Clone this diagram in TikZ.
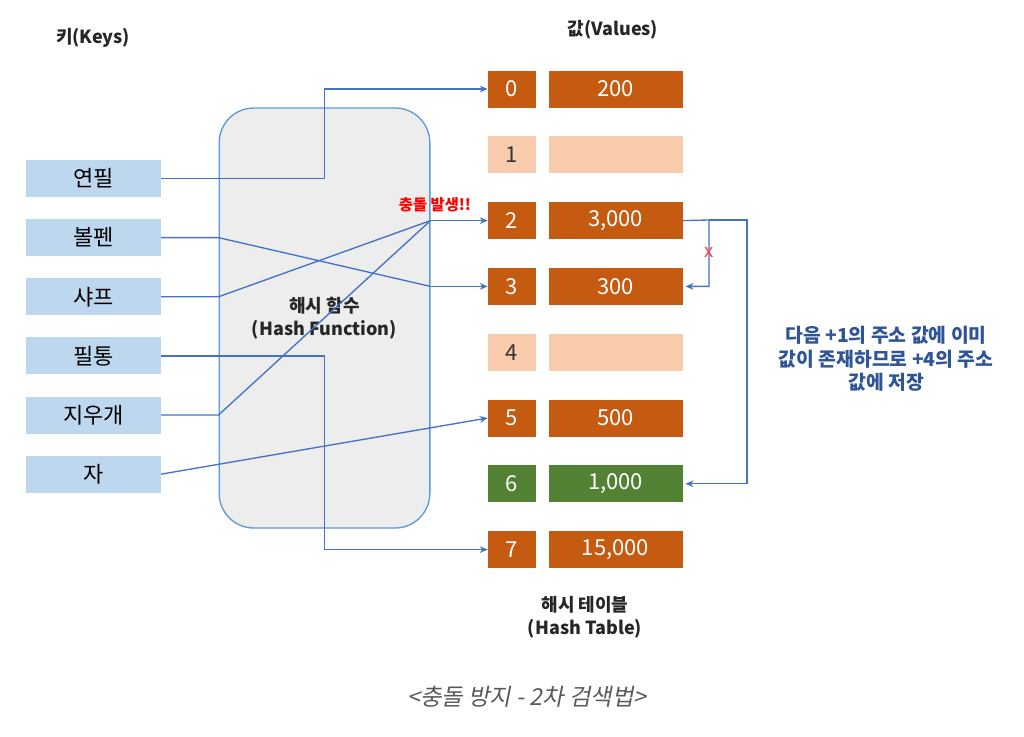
\documentclass[tikz,border=0pt]{standalone}
\usepackage{fontspec}
\setmainfont{Noto Sans CJK KR}
\newfontfamily\capfont[FakeSlant=0.2]{Noto Sans CJK KR}
\usepackage{xcolor}
\usetikzlibrary{arrows.meta,positioning,calc}

\definecolor{keyblue}{HTML}{BDD7EE}
\definecolor{hashgray}{HTML}{EDEDED}
\definecolor{hashline}{HTML}{5B9BD5}
\definecolor{linkblue}{HTML}{4472C4}
\definecolor{slotorange}{HTML}{C55A11}
\definecolor{slotpeach}{HTML}{F8CBAD}
\definecolor{slotgreen}{HTML}{548235}
\definecolor{notecol}{HTML}{2F5597}
\definecolor{capgray}{HTML}{595959}

\begin{document}
\begin{tikzpicture}[
  x=0.75pt, y=-0.75pt,
  font=\fontsize{16.5}{19}\selectfont,
  key/.style={fill=keyblue, minimum width=101pt, minimum height=27.75pt, inner sep=0pt},
  hashbox/.style={rounded corners=26pt, draw=hashline, fill=hashgray, line width=1pt,
                  minimum width=158pt, minimum height=315pt},
  idx/.style={minimum width=36pt, minimum height=27.75pt, inner sep=0pt},
  val/.style={minimum width=100.5pt, minimum height=27.75pt, inner sep=0pt},
  full/.style={fill=slotorange, text=white},
  empty/.style={fill=slotpeach, text=black!80},
  moved/.style={fill=slotgreen, text=white},
  head/.style={font=\fontsize{13.5}{17}\selectfont\bfseries, text=black!85, align=center},
  link/.style={draw=linkblue, line width=1pt},
  arr/.style={link, -{Stealth[length=6pt,width=5pt]}},
  node distance=16.2pt and 9pt
]
  \useasboundingbox (0,0) rectangle (1024,736);

  % keys
  \node[head] (keys) at (93,38) {키(Keys)};
  \node[key] (k1) at (93.5,178.5) {연필};
  \node[key, below=of k1] (k2) {볼펜};
  \node[key, below=of k2] (k3) {샤프};
  \node[key, below=of k3] (k4) {필통};
  \node[key, below=of k4] (k5) {지우개};
  \node[key, below=of k5] (k6) {자};

  % hash function
  \node[hashbox] (hf) at (324.5,318) {};
  \node[head] (hftext) at (324.5,318) {해시 함수\\(Hash Function)};

  % hash table
  \node[head] (vals) at (613,30) {값(Values)};
  \begin{scope}[node distance=21.2pt and 9pt]
    \node[idx, full] (i0) at (512,89) {0};
    \node[idx, empty, below=of i0] (i1) {1};
    \node[idx, full, below=of i1] (i2) {2};
    \node[idx, full, below=of i2] (i3) {3};
    \node[idx, empty, below=of i3] (i4) {4};
    \node[idx, full, below=of i4] (i5) {5};
    \node[idx, moved, below=of i5] (i6) {6};
    \node[idx, full, below=of i6] (i7) {7};
  \end{scope}
  \node[val, full, right=of i0] (v0) {200};
  \node[val, empty, right=of i1] (v1) {};
  \node[val, full, right=of i2] (v2) {3,000};
  \node[val, full, right=of i3] (v3) {300};
  \node[val, empty, right=of i4] (v4) {};
  \node[val, full, right=of i5] (v5) {500};
  \node[val, moved, right=of i6] (v6) {1,000};
  \node[val, full, right=of i7] (v7) {15,000};
  \node[head] (table) at (585,617) {해시 테이블\\(Hash Table)};

  % hashing links
  \coordinate (hit2) at (i2.west -| hf.east);
  \coordinate (hit3) at (i3.west -| hf.east);
  \draw[arr] (k1.east) -- (k1.east -| hf.center) |- (i0.west);
  \draw[link] (k2.east) -- (k2.east -| hf.west) -- (hit3);
  \draw[arr] (hit3) -- (i3.west);
  \draw[link] (k3.east) -- (k3.east -| hf.west) -- (hit2);
  \draw[link] (k5.east) -- (k5.east -| hf.west) -- (hit2);
  \draw[arr] (hit2) -- (i2.west);
  \draw[arr] (k4.east) -- (k4.east -| hf.center) |- (i7.west);
  \draw[arr] (k6.east) -- (i5.west);
  \node[font=\fontsize{11.5}{13}\selectfont\bfseries, text=red] (clash) at (435,205) {충돌 발생!!};

  % probing
  \coordinate (probe1) at (709,220);
  \coordinate (probe4) at (747,220);
  \draw[arr, shorten >=2pt] (v2.east) -- (probe1) |- (v3.east);
  \draw[arr, shorten >=2pt] (probe1) -- (probe4) |- (v6.east);
  \node[font=\fontsize{14}{16}\selectfont, text=red!75] (nope) at (709,252) {x};
  \node[font=\fontsize{14.5}{17.5}\selectfont\bfseries, text=notecol, align=center] (note) at (886,359)
    {다음 +1의 주소 값에 이미\\값이 존재하므로 +4의 주소\\값에 저장};

  \node[font=\fontsize{17.5}{20}\selectfont\capfont, text=capgray] (caption) at (527,697)
    {<충돌 방지 - 2차 검색법>};
\end{tikzpicture}
\end{document}
